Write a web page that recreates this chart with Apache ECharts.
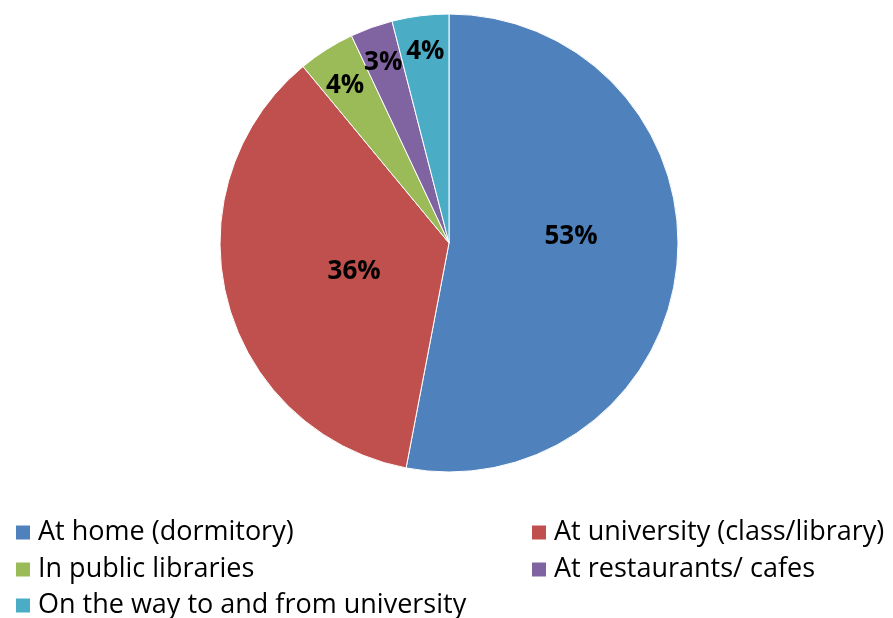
<!DOCTYPE html>
<html>
<head>
<meta charset="utf-8">
<script src="https://cdn.jsdelivr.net/npm/echarts@6/dist/echarts.min.js"></script>
<style>html,body{margin:0;padding:0;background:#fff;}#c{width:893px;height:618px;}</style>
</head>
<body>
<div id="c"></div>
<script>
const categories = ['At home (dormitory)', 'At university (class/library)', 'In public libraries', 'At restaurants/ cafes', 'On the way to and from university'];
const values = [53, 36, 4, 3, 4];
const colors = ['#4F81BD', '#C0504D', '#9BBB59', '#8064A2', '#4BACC6'];
const labelOffsets = [[5, -17], [19, -1], [-41, -58], [-26, -70], [-9, -75]];
const legendPos = [[14, 519], [530, 519], [14, 556], [530, 556], [14, 592]];

const chart = echarts.init(document.getElementById('c'));
const data = categories.map((n, i) => ({
  name: n,
  value: values[i],
  itemStyle: { color: colors[i] },
  label: { offset: labelOffsets[i] }
}));
const legends = categories.map((n, i) => ({
  data: [n],
  left: legendPos[i][0],
  top: legendPos[i][1],
  orient: 'horizontal',
  icon: 'rect',
  itemWidth: 16,
  itemHeight: 16,
  padding: 0,
  selectedMode: false,
  textStyle: { fontFamily: 'Open Sans', fontSize: 27, color: '#000', padding: [0, 0, 0, 2] }
}));
chart.setOption({
  animation: false,
  backgroundColor: '#fff',
  legend: legends,
  series: [{
    type: 'pie',
    center: [449, 243],
    radius: [0, 229],
    startAngle: 90,
    clockwise: true,
    avoidLabelOverlap: false,
    minShowLabelAngle: 0,
    data: data,
    itemStyle: { borderColor: '#fff', borderWidth: 1 },
    label: {
      show: true,
      position: 'inside',
      formatter: '{c}%',
      fontFamily: 'Open Sans',
      fontWeight: 'bold',
      fontSize: 26,
      color: '#000'
    },
    labelLine: { show: false },
    labelLayout: { hideOverlap: false },
    emphasis: { disabled: true }
  }]
});
</script>
</body>
</html>
